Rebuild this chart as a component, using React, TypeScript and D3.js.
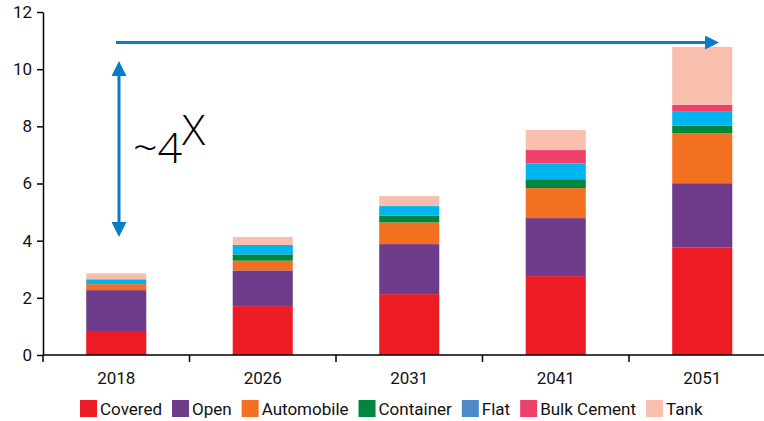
import * as d3 from 'd3'
import { useEffect, useRef } from 'react'

const YEARS = ['2018', '2026', '2031', '2041', '2051']
const SERIES = ['Covered', 'Open', 'Automobile', 'Container', 'Flat', 'Bulk Cement', 'Tank']

const COVERED = [0.84, 1.71, 2.13, 2.76, 3.77]
const OPEN = [1.43, 1.25, 1.75, 2.03, 2.24]
const AUTOMOBILE = [0.21, 0.34, 0.76, 1.05, 1.75]
const CONTAINER = [0, 0.22, 0.24, 0.31, 0.26]
const FLAT = [0.17, 0.33, 0.33, 0.55, 0.49]
const BULK_CEMENT = [0, 0, 0, 0.47, 0.24]
const TANK = [0.21, 0.28, 0.35, 0.7, 2.03]

const Y_TICKS = [0, 2, 4, 6, 8, 10, 12]

const BAR_COLORS = ['#ed1c24', '#6f3c8b', '#f37021', '#00873e', '#00b4ef', '#ef3f6b', '#f9bfae']
const LEGEND_COLORS = ['#ed1c24', '#6f3c8b', '#f37021', '#00873e', '#4e8ac8', '#ef3f6b', '#f9bfae']

const FONT = 'Roboto, sans-serif'

export default function App() {
  const ref = useRef<HTMLDivElement>(null)

  useEffect(() => {
    const width = 764
    const height = 421
    const marginLeft = 43
    const marginTop = 12
    const plotBottom = 355
    const blue = '#0a7cc7'

    const rows = YEARS.map((year, i) => ({
      year,
      Covered: COVERED[i],
      Open: OPEN[i],
      Automobile: AUTOMOBILE[i],
      Container: CONTAINER[i],
      Flat: FLAT[i],
      'Bulk Cement': BULK_CEMENT[i],
      Tank: TANK[i],
    }))

    // category bands are 146.5px wide, the last one runs past the window
    const x = d3.scaleBand().domain(YEARS).range([marginLeft, marginLeft + 146.5 * 5]).paddingInner(0.59).paddingOuter(0.295)
    const xTicks = d3.scaleBand().domain(YEARS).range([marginLeft, marginLeft + 146.5 * 5])
    const y = d3.scaleLinear().domain([0, 12]).range([plotBottom, marginTop])

    const stacked = d3.stack<any>().keys(SERIES)(rows)

    const svg = d3.create('svg')
      .attr('width', width)
      .attr('height', height)
      .attr('viewBox', [0, 0, width, height])
      .attr('style', 'position:absolute;left:0;top:0;background:#fff')

    svg.append('g')
      .selectAll('g')
      .data(stacked)
      .join('g')
      .attr('fill', (_, i) => BAR_COLORS[i])
      .selectAll('rect')
      .data((d) => d)
      .join('rect')
      .attr('x', (d) => x(d.data.year) as number)
      .attr('y', (d) => y(d[1]))
      .attr('height', (d) => y(d[0]) - y(d[1]))
      .attr('width', x.bandwidth())

    // y axis
    const yAxis = svg.append('g')
      .attr('transform', `translate(${marginLeft},0)`)
      .call(d3.axisLeft(y).tickValues(Y_TICKS).tickSize(6).tickPadding(5).tickSizeOuter(0))
    yAxis.select('.domain').attr('stroke', '#000').attr('stroke-width', 1.5)
    yAxis.selectAll('.tick line').attr('stroke', '#000').attr('stroke-width', 1.5)
    yAxis.selectAll('text').attr('font-family', FONT).attr('font-size', 17).attr('fill', '#111')

    // x axis with ticks between categories
    const xAxis = svg.append('g').attr('transform', `translate(0,${plotBottom})`)
    xAxis.append('line')
      .attr('x1', marginLeft).attr('x2', width)
      .attr('stroke', '#000').attr('stroke-width', 1.5)
    xAxis.selectAll('line.sep')
      .data(YEARS)
      .join('line')
      .attr('class', 'sep')
      .attr('x1', (d) => xTicks(d) as number)
      .attr('x2', (d) => xTicks(d) as number)
      .attr('y1', 0).attr('y2', 7)
      .attr('stroke', '#000').attr('stroke-width', 1.5)
    xAxis.selectAll('text')
      .data(YEARS)
      .join('text')
      .attr('x', (d) => (x(d) as number) + x.bandwidth() / 2)
      .attr('y', 29)
      .attr('text-anchor', 'middle')
      .attr('font-family', FONT)
      .attr('font-size', 17)
      .attr('fill', '#111')
      .text((d) => d)

    // arrows
    const defs = svg.append('defs')
    defs.append('marker')
      .attr('id', 'ah')
      .attr('viewBox', '0 0 10 10')
      .attr('refX', 0).attr('refY', 5)
      .attr('markerUnits', 'userSpaceOnUse')
      .attr('markerWidth', 22).attr('markerHeight', 14)
      .attr('orient', 'auto')
      .append('path').attr('d', 'M0,0L10,5L0,10Z').attr('fill', blue)
    defs.append('marker')
      .attr('id', 'av')
      .attr('viewBox', '0 0 10 10')
      .attr('refX', 0).attr('refY', 5)
      .attr('markerUnits', 'userSpaceOnUse')
      .attr('markerWidth', 18).attr('markerHeight', 15)
      .attr('orient', 'auto-start-reverse')
      .append('path').attr('d', 'M0,0L10,5L0,10Z').attr('fill', blue)

    svg.append('line')
      .attr('x1', 116).attr('x2', 705)
      .attr('y1', 42.5).attr('y2', 42.5)
      .attr('stroke', blue).attr('stroke-width', 3)
      .attr('marker-end', 'url(#ah)')
    svg.append('line')
      .attr('x1', 119).attr('x2', 119)
      .attr('y1', 76).attr('y2', 222)
      .attr('stroke', blue).attr('stroke-width', 3)
      .attr('marker-start', 'url(#av)')
      .attr('marker-end', 'url(#av)')

    const ann = svg.append('text')
      .attr('x', 133).attr('y', 163)
      .attr('font-family', '"Open Sans", sans-serif')
      .attr('font-weight', 300)
      .attr('font-size', 43)
      .attr('fill', '#000')
    ann.append('tspan').text('~4')
    ann.append('tspan').attr('dy', -18).text('X')

    // legend
    const legend = svg.append('g').attr('transform', 'translate(80,400)')
    let lx = 0
    if (ref.current) ref.current.appendChild(svg.node() as SVGSVGElement)
    SERIES.forEach((name, i) => {
      const item = legend.append('g').attr('transform', `translate(${lx},0)`)
      item.append('rect')
        .attr('width', 17).attr('height', 17)
        .attr('fill', LEGEND_COLORS[i])
      const t = item.append('text')
        .attr('x', 20).attr('y', 15)
        .attr('font-family', FONT)
        .attr('font-size', 17)
        .attr('fill', '#111')
        .text(name)
      const w = (t.node() as SVGTextElement).getComputedTextLength()
      lx += 20 + w + 10
    })

    return () => {
      svg.remove()
    }
  }, [])

  return <div ref={ref} />
}
